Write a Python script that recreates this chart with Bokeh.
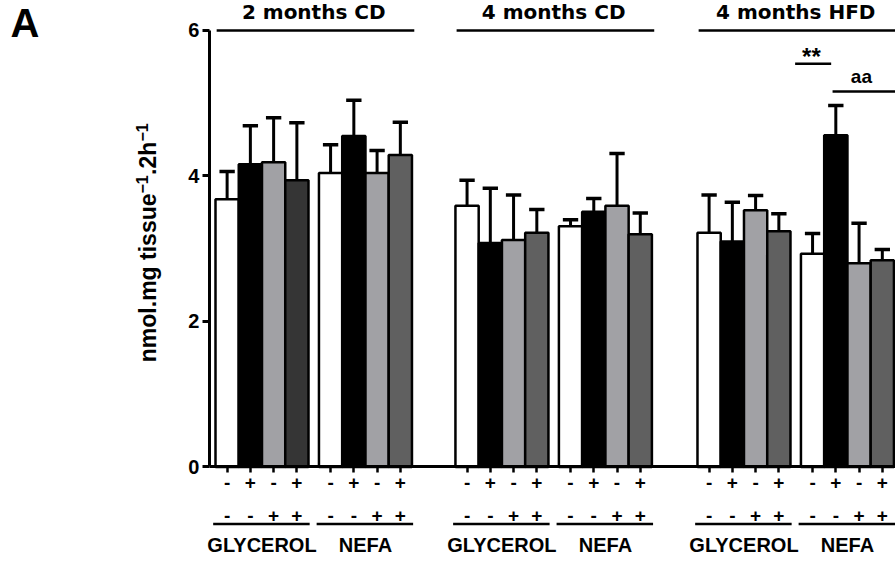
import math
from bokeh.plotting import figure
from bokeh.models import Range1d, FixedTicker, ColumnDataSource
from bokeh.core.properties import value
from bokeh.embed import file_html
from bokeh.resources import INLINE

# ---------------- data ----------------
panels = ["2 months CD", "4 months CD", "4 months HFD"]
subgroups = ["GLYCEROL", "NEFA"]
row1_labels = ["-", "+", "-", "+"]
row2_labels = ["-", "-", "+", "+"]

# each list: GLYCEROL bars 1-4, then NEFA bars 1-4 (nmol.mg tissue-1.2h-1)
mean_2m_cd = [3.68, 4.16, 4.19, 3.94, 4.04, 4.55, 4.04, 4.29]
sem_2m_cd = [0.38, 0.53, 0.61, 0.79, 0.39, 0.49, 0.31, 0.45]
mean_4m_cd = [3.59, 3.08, 3.12, 3.22, 3.31, 3.51, 3.59, 3.20]
sem_4m_cd = [0.35, 0.75, 0.62, 0.32, 0.09, 0.18, 0.72, 0.29]
mean_4m_hfd = [3.22, 3.10, 3.53, 3.24, 2.93, 4.56, 2.80, 2.84]
sem_4m_hfd = [0.52, 0.54, 0.20, 0.24, 0.28, 0.41, 0.55, 0.15]

y_ticks = [0, 2, 4, 6]
y_label_parts = ["nmol.mg tissue", "\u22121", ".2h", "\u22121"]
sig_labels = ["**", "aa"]

means = mean_2m_cd + mean_4m_cd + mean_4m_hfd
sems = sem_2m_cd + sem_4m_cd + sem_4m_hfd

# ---------------- layout (bar-width units) ----------------
group_start = [0.0, 10.32, 20.73]
sub_off = 4.45
xs = []
for g in range(3):
    for s in range(2):
        for i in range(4):
            xs.append(round(group_start[g] + s * sub_off + i + 0.5, 3))

base_fill = ["white", "black", "#a1a1a5", "#606060"]
fills = []
for g in range(3):
    for s in range(2):
        for i in range(4):
            c = base_fill[i]
            if g == 0 and s == 0 and i == 3:
                c = "#353535"
            fills.append(c)

tops = [m + e for m, e in zip(means, sems)]

FONT = value("Liberation Sans")
WIDE = value("DejaVu Sans")

p = figure(width=895, height=563, output_backend="svg", toolbar_location=None,
           x_range=Range1d(-9.247, 29.247), y_range=Range1d(-1.3265, 6.412),
           min_border=0, min_border_left=0, min_border_right=0,
           min_border_top=0, min_border_bottom=0)
p.outline_line_color = None
p.xgrid.visible = False
p.ygrid.visible = False
p.background_fill_color = "white"
p.border_fill_color = "white"

# error bars (behind bars)
cap = 0.33
p.segment(x0=xs, y0=means, x1=xs, y1=tops, line_color="black", line_width=3)
p.segment(x0=[x - cap for x in xs], y0=tops, x1=[x + cap for x in xs], y1=tops,
          line_color="black", line_width=3.5)

# bars
src = ColumnDataSource(dict(x=xs, top=means, fill=fills))
p.vbar(x="x", top="top", bottom=0, width=1.0, source=src, fill_color="fill",
       line_color="black", line_width=2.5)

# y axis
ya = p.yaxis[0]
ya.fixed_location = -0.26
ya.bounds = (0, 6)
ya.ticker = FixedTicker(ticks=y_ticks)
ya.axis_line_width = 3
ya.major_tick_line_width = 3
ya.major_tick_out = 7
ya.major_tick_in = 0
ya.minor_tick_out = 0
ya.minor_tick_in = 0
ya.major_label_text_font = "Liberation Sans"
ya.major_label_text_font_style = "bold"
ya.major_label_text_font_size = "20px"
ya.major_label_text_color = "black"
ya.major_label_standoff = 3

# x axis at y = 0
xa = p.xaxis[0]
xa.fixed_location = 0
xa.bounds = (-0.26, 29.6)
xa.ticker = FixedTicker(ticks=xs)
xa.major_label_overrides = {x: lab for x, lab in zip(xs, row1_labels * 6)}
xa.axis_line_width = 3
xa.major_tick_line_width = 2.5
xa.major_tick_out = 6
xa.major_tick_in = 0
xa.minor_tick_out = 0
xa.minor_tick_in = 0
xa.major_label_text_font = "Liberation Sans"
xa.major_label_text_font_style = "bold"
xa.major_label_text_font_size = "19px"
xa.major_label_text_color = "black"
xa.major_label_standoff = 3

# second row of +/- labels
p.text(x=xs, y=[-0.667] * len(xs), text=row2_labels * 6, text_font=FONT,
       text_font_style="bold", text_font_size="19px", text_align="center",
       text_baseline="middle", text_color="black")

# underlines and subgroup names
ul_x0, ul_x1, sub_x, sub_txt = [], [], [], []
for g in range(3):
    for s in range(2):
        st = group_start[g] + s * sub_off
        ul_x0.append(st - 0.1)
        ul_x1.append(st + 4.05)
        sub_x.append(st + 2.0)
        sub_txt.append(subgroups[s])
p.segment(x0=ul_x0, y0=[-0.784] * 6, x1=ul_x1, y1=[-0.784] * 6,
          line_color="black", line_width=2.5)
p.text(x=sub_x, y=[-1.079] * 6, text=sub_txt, text_font=FONT,
       text_font_style="bold", text_font_size="20px", text_align="center",
       text_baseline="middle", text_color="black")

# panel titles and lines
t_x0 = [gs + 0.05 for gs in group_start]
t_x1 = [gs + sub_off + 4.1 for gs in group_start]
t_xc = [gs + (sub_off + 4) / 2 for gs in group_start]
p.segment(x0=t_x0, y0=[6.0] * 3, x1=t_x1, y1=[6.0] * 3, line_color="black",
          line_width=2.5)
p.text(x=t_xc, y=[6.248] * 3, text=panels, text_font=WIDE,
       text_font_style="bold", text_font_size="20px", text_align="center",
       text_baseline="middle", text_color="black")

# significance marks (4 months HFD, NEFA)
w_c = xs[20]
b_c = xs[21]
g_c = xs[22]
d_c = xs[23]
p.segment(x0=[w_c - 0.75, b_c - 0.14], y0=[5.542, 5.161],
          x1=[w_c + 0.8, d_c + 1.0], y1=[5.542, 5.161],
          line_color="black", line_width=2.5)
p.text(x=[w_c - 0.05], y=[5.645], text=[sig_labels[0]], text_font=FONT,
       text_font_style="bold", text_font_size="24px", text_align="center",
       text_baseline="middle", text_color="black")
p.text(x=[g_c + 0.1], y=[5.37], text=[sig_labels[1]], text_font=FONT,
       text_font_style="bold", text_font_size="19px", text_align="center",
       text_baseline="middle", text_color="black")

# y axis title (rotated, with superscripts)
p.text(x=[-2.882, -3.166, -2.882, -3.166],
       y=[1.4406, 3.759, 4.014, 4.474],
       text=y_label_parts, angle=math.pi / 2, text_font=FONT,
       text_font_style="bold", text_font_size=["23px", "16px", "23px", "16px"],
       text_align="left", text_baseline="middle", text_color="black")

# panel letter
p.text(x=[-8.817], y=[6.096], text=["A"], text_font=FONT,
       text_font_style="bold", text_font_size="40px", text_align="left",
       text_baseline="middle", text_color="black")

open("out.html", "w").write(file_html(p, INLINE))
